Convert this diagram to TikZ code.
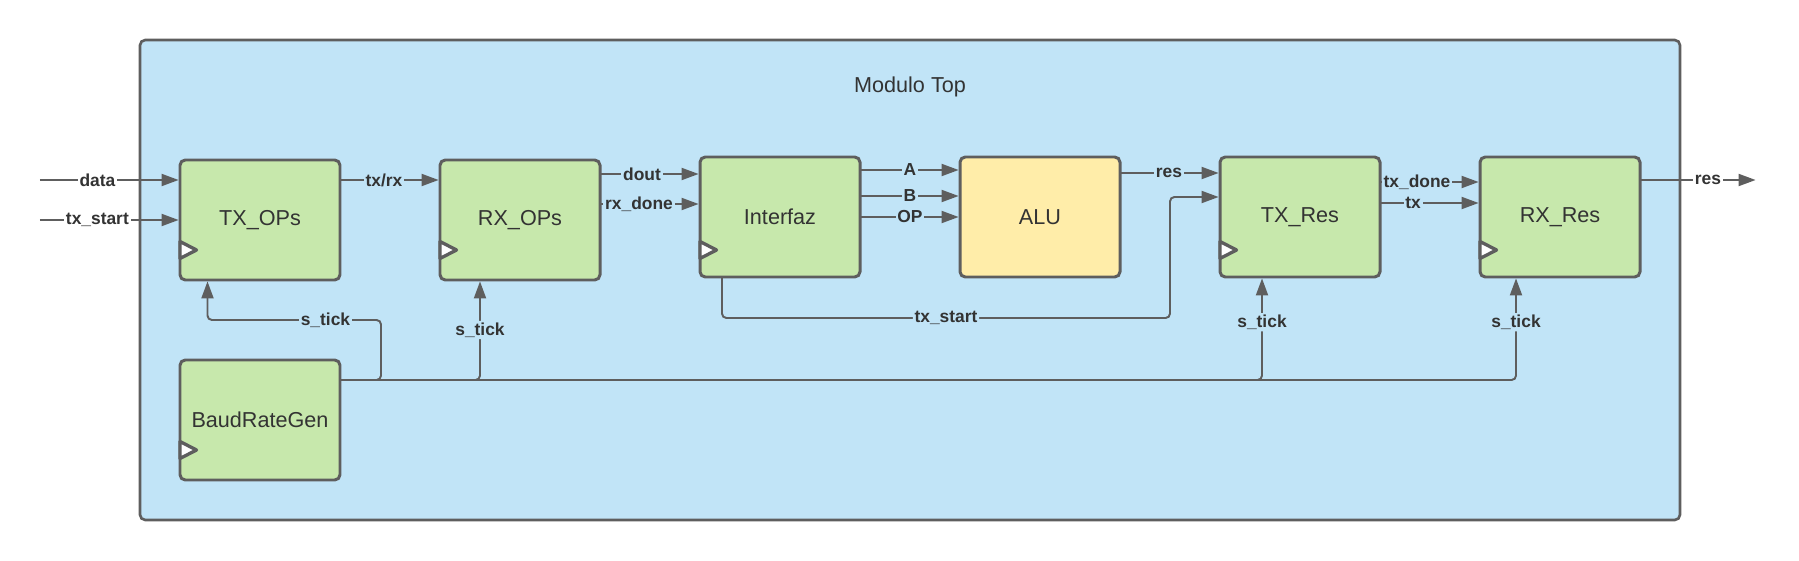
\documentclass[tikz,border=0pt]{standalone}
\usepackage{fontspec}
\setmainfont{Liberation Sans}
\usepackage{xcolor}
\usetikzlibrary{calc,backgrounds,fit,positioning,arrows.meta}

\definecolor{topblue}{RGB}{193,228,247}
\definecolor{blockgreen}{RGB}{199,232,172}
\definecolor{aluyellow}{RGB}{255,237,169}
\definecolor{wiregray}{RGB}{94,94,94}
\definecolor{textgray}{RGB}{51,51,51}

\tikzset{
  block/.style={draw=wiregray, fill=blockgreen, line width=1.7pt, rounded corners=3pt,
    minimum width=3.2cm, minimum height=2.4cm, outer sep=0pt, text=textgray,
    font=\fontsize{12.3pt}{14pt}\selectfont},
  wire/.style={draw=wiregray, line width=1.1pt, shorten >=0.8pt,
    -{Triangle[length=0.34cm,width=0.24cm]}},
  sig/.style={fill=topblue, text=textgray, inner sep=1pt,
    font=\fontsize{9.9pt}{11pt}\selectfont\bfseries},
  clk/.style={draw=wiregray, fill=white, line width=1.9pt, line join=round},
}

\begin{document}
\begin{tikzpicture}
        %\draw [help lines] (-5,-6) grid (30,4);
        \useasboundingbox (-5.2,-6.8) rectangle (30.78,4.4);

        \node[block] (txops) {TX\_OPs};
        \node[block, right = 2cm of txops] (rxops) {RX\_OPs};
        \node[block, right = 2cm of rxops, yshift=0.06cm] (interfaz) {Interfaz};
        \node[block, right = 2cm of interfaz, fill=aluyellow] (alu) {ALU};
        \node[block, right = 2cm of alu] (txres) {TX\_Res};
        \node[block, right = 2cm of txres] (rxres) {RX\_Res};
        \node[block, below = 1.6cm of txops] (baud) {BaudRateGen};

        \coordinate[above = 1.6cm of txops.north] (ftop);
        \begin{scope}[on background layer]
        \node[draw=wiregray, fill=topblue, line width=1.5pt, rounded corners=3pt,
              fit=(ftop)(rxres)(baud), inner sep=0.8cm] (frame) {};
        \end{scope}
        \node[text=textgray, font=\fontsize{12.3pt}{14pt}\selectfont] (title)
              at ([yshift=-0.96cm]frame.north) {Modulo Top};

        % clocks
        \filldraw[clk] ([yshift=-0.43cm]txops.west) -- ++(0.33,-0.17) -- ++(-0.33,-0.17) -- cycle;
        \filldraw[clk] ([yshift=-0.43cm]rxops.west) -- ++(0.33,-0.17) -- ++(-0.33,-0.17) -- cycle;
        \filldraw[clk] ([yshift=-0.49cm]interfaz.west) -- ++(0.33,-0.17) -- ++(-0.33,-0.17) -- cycle;
        \filldraw[clk] ([yshift=-0.49cm]txres.west) -- ++(0.33,-0.17) -- ++(-0.33,-0.17) -- cycle;
        \filldraw[clk] ([yshift=-0.49cm]rxres.west) -- ++(0.33,-0.17) -- ++(-0.33,-0.17) -- cycle;
        \filldraw[clk] ([yshift=-0.43cm]baud.west) -- ++(0.33,-0.17) -- ++(-0.33,-0.17) -- cycle;

        % inputs
        \coordinate (datain) at ([xshift=-2.8cm, yshift=0.8cm]txops.west);
        \coordinate (startin) at ([xshift=-2.8cm]txops.west);
        \draw[wire] (datain) -- node[sig, fill=white, pos=0.41]{data} (datain -| txops.west);
        \draw[wire] (startin) -- node[sig, fill=white, pos=0.41]{tx\_start} (txops.west);

        \draw[wire] ([yshift=0.8cm]txops.east) -- node[sig, pos=0.44]{tx/rx} ([yshift=0.8cm]rxops.west);

        \coordinate (doutin) at ([yshift=0.86cm]interfaz.west);
        \coordinate (rxdonein) at ([yshift=0.26cm]interfaz.west);
        \draw[wire] (rxops.east |- doutin) -- node[sig, pos=0.42]{dout} (doutin);
        \draw[wire] (rxops.east |- rxdonein) -- node[sig, pos=0.39]{rx\_done} (rxdonein);

        \coordinate (ain) at ([yshift=0.94cm]alu.west);
        \coordinate (bin) at ([yshift=0.42cm]alu.west);
        \draw[wire] (interfaz.east |- ain) -- node[sig]{A} (ain);
        \draw[wire] (interfaz.east |- bin) -- node[sig]{B} (bin);
        \draw[wire] (interfaz.east) -- node[sig]{OP} (alu.west);

        \coordinate (resin) at ([yshift=0.88cm]txres.west);
        \coordinate (tsin) at ([yshift=0.4cm]txres.west);
        \draw[wire] (alu.east |- resin) -- node[sig, pos=0.49]{res} (resin);
        \coordinate (tsbot) at ($(alu.south east)!0.5!(txres.south west)+(0,-0.82)$);
        \draw[wire, rounded corners=2.5pt] ([xshift=0.44cm]interfaz.south west)
              |- node[sig, pos=0.75]{tx\_start} (tsbot) |- (tsin);

        \coordinate (donein) at ([yshift=0.7cm]rxres.west);
        \coordinate (txin) at ([yshift=0.28cm]rxres.west);
        \draw[wire] (txres.east |- donein) -- node[sig, pos=0.37]{tx\_done} (donein);
        \draw[wire] (txres.east |- txin) -- node[sig, pos=0.33]{tx} (txin);

        \coordinate (resout) at ([yshift=0.74cm]rxres.east);
        \coordinate (resend) at ([xshift=2.34cm]resout);
        \draw[wire] (resout) -- node[sig, fill=white, pos=0.58]{res} (resend);

        % s_tick
        \coordinate (tick) at ([yshift=0.8cm]baud.east);
        \coordinate (tickup) at ([xshift=0.82cm, yshift=1.2cm]tick);
        \draw[wire, rounded corners=2.5pt] (tick) -| (tickup)
              -| node[sig, pos=0.16]{s\_tick} ([xshift=0.55cm]txops.south west);
        \draw[wire, rounded corners=2.5pt] (tick) -| node[sig, pos=0.75]{s\_tick} ([xshift=-0.8cm]rxops.south);
        \draw[wire, rounded corners=2.5pt] (tick) -| node[sig, pos=0.78]{s\_tick} ([xshift=-0.76cm]txres.south);
        \draw[wire, rounded corners=2.5pt] (tick) -| node[sig, pos=0.78]{s\_tick} ([xshift=-0.88cm]rxres.south);
\end{tikzpicture}
\end{document}
